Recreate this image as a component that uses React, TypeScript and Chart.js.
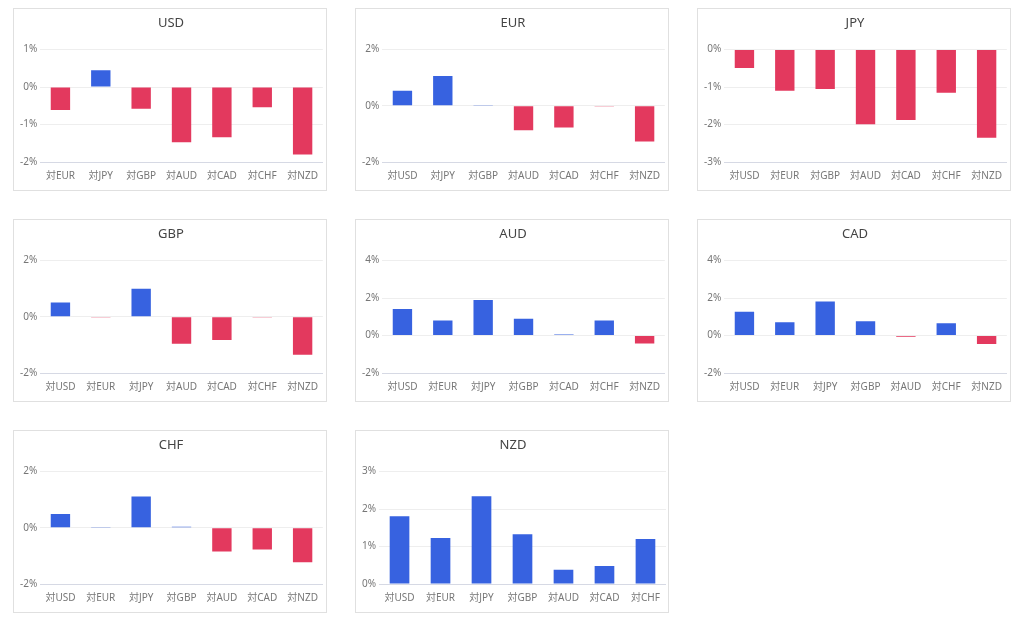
import React, { useEffect, useRef } from "react";
import { Chart, registerables } from "chart.js";

Chart.register(...registerables);

const titles = ["USD", "EUR", "JPY", "GBP", "AUD", "CAD", "CHF", "NZD"];

const usdLabels = ["対EUR", "対JPY", "対GBP", "対AUD", "対CAD", "対CHF", "対NZD"];
const usdValues = [-0.61, 0.45, -0.58, -1.47, -1.34, -0.54, -1.8];

const eurLabels = ["対USD", "対JPY", "対GBP", "対AUD", "対CAD", "対CHF", "対NZD"];
const eurValues = [0.54, 1.06, 0.03, -0.87, -0.77, -0.01, -1.27];

const jpyLabels = ["対USD", "対EUR", "対GBP", "対AUD", "対CAD", "対CHF", "対NZD"];
const jpyValues = [-0.49, -1.1, -1.05, -1.99, -1.88, -1.15, -2.35];

const gbpLabels = ["対USD", "対EUR", "対JPY", "対AUD", "対CAD", "対CHF", "対NZD"];
const gbpValues = [0.51, -0.01, 1.0, -0.96, -0.83, -0.01, -1.35];

const audLabels = ["対USD", "対EUR", "対JPY", "対GBP", "対CAD", "対CHF", "対NZD"];
const audValues = [1.42, 0.8, 1.9, 0.9, 0.05, 0.8, -0.42];

const cadLabels = ["対USD", "対EUR", "対JPY", "対GBP", "対AUD", "対CHF", "対NZD"];
const cadValues = [1.27, 0.71, 1.82, 0.76, -0.06, 0.65, -0.45];

const chfLabels = ["対USD", "対EUR", "対JPY", "対GBP", "対AUD", "対CAD", "対NZD"];
const chfValues = [0.49, 0.01, 1.11, 0.04, -0.84, -0.77, -1.23];

const nzdLabels = ["対USD", "対EUR", "対JPY", "対GBP", "対AUD", "対CAD", "対CHF"];
const nzdValues = [1.81, 1.23, 2.34, 1.33, 0.38, 0.48, 1.2];

const axisMin = [-2, -2, -3, -2, -2, -2, -2, 0];
const axisMax = [1, 2, 0, 2, 4, 4, 2, 3];
const axisStep = [1, 2, 1, 2, 2, 2, 2, 1];

const allLabels = [usdLabels, eurLabels, jpyLabels, gbpLabels, audLabels, cadLabels, chfLabels, nzdLabels];
const allValues = [usdValues, eurValues, jpyValues, gbpValues, audValues, cadValues, chfValues, nzdValues];

const BLUE = "#3762e0";
const RED = "#e3395e";
const FONT = '"Noto Sans", "Noto Sans CJK JP", sans-serif';

interface PanelProps {
  title: string;
  labels: string[];
  values: number[];
  min: number;
  max: number;
  step: number;
}

const Panel = ({ title, labels, values, min, max, step }: PanelProps) => {
  const canvasRef = useRef<HTMLCanvasElement>(null);

  useEffect(() => {
    if (!canvasRef.current) return;
    const chart = new Chart(canvasRef.current, {
      type: "bar",
      data: {
        labels,
        datasets: [
          {
            data: values,
            backgroundColor: values.map((v) => (v >= 0 ? BLUE : RED)),
            borderWidth: 0,
            categoryPercentage: 0.8,
            barPercentage: 0.6,
          },
        ],
      },
      options: {
        animation: false,
        responsive: true,
        maintainAspectRatio: false,
        layout: { padding: { left: 3, right: 1, top: 0, bottom: 0 } },
        plugins: {
          legend: { display: false },
          tooltip: { enabled: false },
          title: {
            display: true,
            text: title,
            color: "#444",
            font: { family: FONT, size: 13, weight: "normal" },
            padding: { top: 6, bottom: 19 },
          },
        },
        scales: {
          x: {
            grid: { display: false, drawTicks: false },
            border: { display: true, color: "#d6d9e4" },
            ticks: {
              color: "#777",
              font: { family: FONT, size: 10 },
              padding: 8,
              autoSkip: false,
              maxRotation: 0,
            },
          },
          y: {
            min,
            max,
            grid: { color: "#eeeeee", drawTicks: false },
            border: { display: false },
            ticks: {
              stepSize: step,
              color: "#777",
              font: { family: FONT, size: 10 },
              padding: 3,
              callback: (v) => `${v}%`,
            },
          },
        },
      },
    });
    return () => {
      chart.destroy();
    };
  }, [title, labels, values, min, max, step]);

  return (
    <div
      style={{
        width: 314,
        height: 183,
        boxSizing: "border-box",
        border: "1px solid #e0e0e0",
        background: "#fff",
      }}
    >
      <canvas ref={canvasRef} />
    </div>
  );
};

export default function App() {
  return (
    <div
      style={{
        display: "flex",
        flexWrap: "wrap",
        columnGap: 28,
        rowGap: 28,
        paddingLeft: 5,
        width: 1010,
        boxSizing: "border-box",
        fontFamily: FONT,
      }}
    >
      {titles.map((t, i) => (
        <Panel
          key={t}
          title={t}
          labels={allLabels[i]}
          values={allValues[i]}
          min={axisMin[i]}
          max={axisMax[i]}
          step={axisStep[i]}
        />
      ))}
    </div>
  );
}
